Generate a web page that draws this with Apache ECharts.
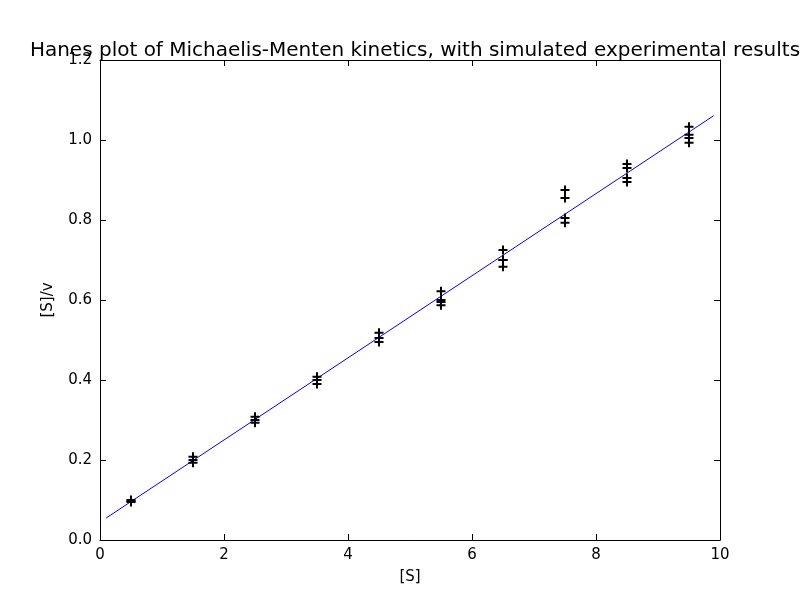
<!DOCTYPE html>
<html><head><meta charset="utf-8">
<script src="https://cdn.jsdelivr.net/npm/echarts@6/dist/echarts.min.js"></script>
<style>html,body{margin:0;padding:0;background:#fff}#c{width:800px;height:600px}</style>
</head><body><div id="c"></div>
<script>
const sX = [0.5,0.5,0.5, 1.5,1.5,1.5, 2.5,2.5,2.5, 3.5,3.5,3.5, 4.5,4.5,4.5, 5.5,5.5,5.5,5.5, 6.5,6.5,6.5,6.5, 7.5,7.5,7.5,7.5, 8.5,8.5,8.5,8.5, 9.5,9.5,9.5,9.5];
const sY = [0.100,0.097,0.095, 0.208,0.200,0.193, 0.308,0.300,0.293, 0.408,0.400,0.390, 0.518,0.505,0.495, 0.622,0.600,0.595,0.587, 0.725,0.700,0.700,0.683, 0.875,0.855,0.805,0.793, 0.940,0.930,0.905,0.895, 1.033,1.013,1.005,0.993];
const fitX = [0.1, 9.9];
const fitY = [0.055, 1.061];
const xTicks = [0,2,4,6,8,10];
const yTicks = [0.0,0.2,0.4,0.6,0.8,1.0,1.2];

const font = 'DejaVu Sans';
const axisBase = {
  axisLine:{show:true,onZero:false,lineStyle:{color:'#000',width:1}},
  axisTick:{show:true,inside:true,length:6,lineStyle:{color:'#000'}},
  splitLine:{show:false}
};
const chart = echarts.init(document.getElementById('c'));
chart.setOption({
  animation:false,
  title:{text:'Hanes plot of Michaelis-Menten kinetics, with simulated experimental results',left:410,textAlign:'center',top:36,textStyle:{fontFamily:font,fontSize:20,fontWeight:'normal',color:'#000'}},
  grid:{left:100,right:80,top:60,bottom:60},
  xAxis:[
    Object.assign({type:'value',min:0,max:10,interval:2,position:'bottom',name:'[S]',nameLocation:'middle',nameGap:30,nameTextStyle:{fontFamily:font,fontSize:15,color:'#000'},axisLabel:{fontFamily:font,fontSize:15,color:'#000',margin:8}},axisBase),
    Object.assign({type:'value',min:0,max:10,interval:2,position:'top',axisLabel:{show:false}},axisBase)
  ],
  yAxis:[
    Object.assign({type:'value',min:0,max:1.2,interval:0.2,position:'left',name:'[S]/v',nameLocation:'middle',nameGap:44,nameTextStyle:{fontFamily:font,fontSize:15,color:'#000'},axisLabel:{fontFamily:font,fontSize:15,color:'#000',margin:8,formatter:v=>v.toFixed(1)}},axisBase),
    Object.assign({type:'value',min:0,max:1.2,interval:0.2,position:'right',axisLabel:{show:false}},axisBase)
  ],
  series:[
    {type:'line',data:fitX.map((x,i)=>[x,fitY[i]]),showSymbol:false,lineStyle:{color:'#0000ff',width:1},z:2},
    {type:'scatter',data:sX.map((x,i)=>[x,sY[i]]),symbol:'path://M0,-1L0,1M-1,0L1,0',symbolSize:9,
     itemStyle:{color:'none',borderColor:'#000',borderWidth:2,opacity:1},z:3}
  ]
});
</script></body></html>
